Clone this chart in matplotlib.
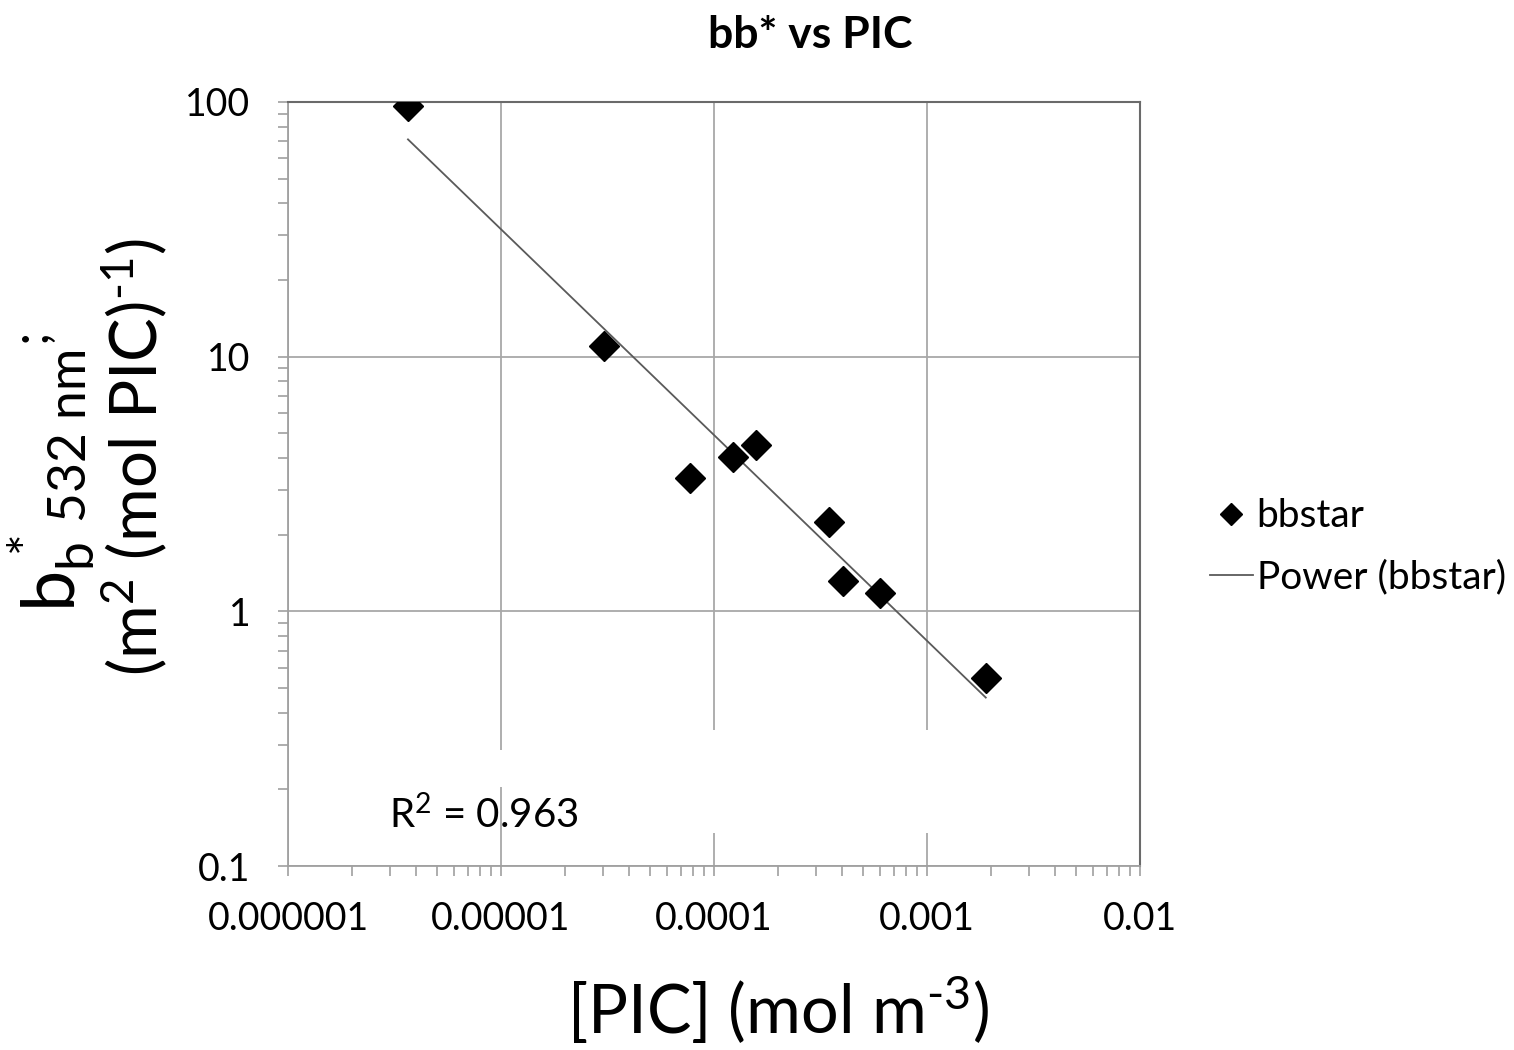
import numpy as np
import matplotlib
matplotlib.use("Agg")
from matplotlib import pyplot as plt
from matplotlib.patches import Rectangle
from matplotlib.ticker import FixedLocator, FixedFormatter, LogLocator, NullFormatter

plt.rcParams["font.family"] = ["Lato", "DejaVu Sans"]
plt.rcParams["mathtext.fontset"] = "custom"
plt.rcParams["mathtext.rm"] = "Lato"
plt.rcParams["mathtext.it"] = "Lato:italic"

# data
pic = [3.66e-6, 3.05e-5, 7.7e-5, 1.23e-4, 1.57e-4, 3.47e-4, 4.04e-4, 6.0e-4, 1.89e-3]
bbstar = [96.5, 11.0, 3.35, 4.02, 4.48, 2.25, 1.31, 1.18, 0.546]
x_ticks = [1e-6, 1e-5, 1e-4, 1e-3, 1e-2]
x_labels = ["0.000001", "0.00001", "0.0001", "0.001", "0.01"]
y_ticks = [0.1, 1, 10, 100]
y_labels = ["0.1", "1", "10", "100"]
r2_text = "R$^2$ = 0.963"

fig = plt.figure(figsize=(15.14, 10.5), dpi=100)
ax = fig.add_axes([0.1902, 0.1752, 0.5627, 0.7277])

ax.set_xscale("log")
ax.set_yscale("log")
ax.set_xlim(1e-6, 1e-2)
ax.set_ylim(0.1, 100)

# power trendline (least squares in log space)
lx, ly = np.log10(pic), np.log10(bbstar)
b, a = np.polyfit(lx, ly, 1)
xx = np.logspace(lx.min(), lx.max(), 50)
ax.plot(xx, 10 ** a * xx ** b, color="#5a5a5a", lw=1.3, zorder=3, label="Power (bbstar)")
ax.plot(pic, bbstar, ls="none", marker="D", ms=15, color="black", zorder=4, label="bbstar")

ax.xaxis.set_major_locator(FixedLocator(x_ticks))
ax.xaxis.set_major_formatter(FixedFormatter(x_labels))
ax.yaxis.set_major_locator(FixedLocator(y_ticks))
ax.yaxis.set_major_formatter(FixedFormatter(y_labels))
ax.xaxis.set_minor_locator(LogLocator(base=10, subs=np.arange(2, 10)))
ax.yaxis.set_minor_locator(LogLocator(base=10, subs=np.arange(2, 10)))
ax.xaxis.set_minor_formatter(NullFormatter())
ax.yaxis.set_minor_formatter(NullFormatter())

ax.grid(True, which="major", color="#a8a8a8", lw=1.3, zorder=1)
ax.tick_params(which="both", direction="out", length=7, width=1.2, color="#a0a0a0")
ax.tick_params(axis="y", which="major", labelsize=27, pad=20)
ax.tick_params(axis="x", which="major", labelsize=27, pad=18)
for s in ["left", "bottom"]:
    ax.spines[s].set_color("#a0a0a0")
    ax.spines[s].set_linewidth(1.3)
for s in ["top", "right"]:
    ax.spines[s].set_color("#6a6a6a")
    ax.spines[s].set_linewidth(1.5)

# white patches that hide part of the grid around the R2 label
ax.add_patch(Rectangle((0.225, 0.103), 0.54, 0.049, transform=ax.transAxes,
                       facecolor="white", edgecolor="none", zorder=2))
ax.add_patch(Rectangle((0.484, 0.043), 0.281, 0.135, transform=ax.transAxes,
                       facecolor="white", edgecolor="none", zorder=2))

ax.text(0.119, 0.05, r2_text, transform=ax.transAxes, fontsize=29, zorder=5)

fig.text(0.535, 0.967, "bb* vs PIC", fontsize=32, fontweight="bold", ha="center", va="center")

fig.text(0.514, 0.004, r"[PIC] (mol m$^{\mathregular{\text{-}3}}$)", fontsize=48,
         ha="center", va="bottom")
fig.text(0.034, 0.55, r"$\mathregular{b_b^{\,*}{}_{532\ nm}{}^{;}}$", fontsize=53,
         rotation=90, ha="center", va="center")
fig.text(0.089, 0.565, r"$\mathregular{(m^2\ (mol\ PIC)^{\text{-}1})}$", fontsize=47,
         rotation=90, ha="center", va="center")

h, l = ax.get_legend_handles_labels()
fig.legend(h[::-1], l[::-1], loc="center left", bbox_to_anchor=(0.776, 0.479), frameon=False,
           fontsize=28, handlelength=1.1, handletextpad=0.1, labelspacing=0.65,
           markerscale=0.75)

fig.savefig("out.png", dpi=100)
